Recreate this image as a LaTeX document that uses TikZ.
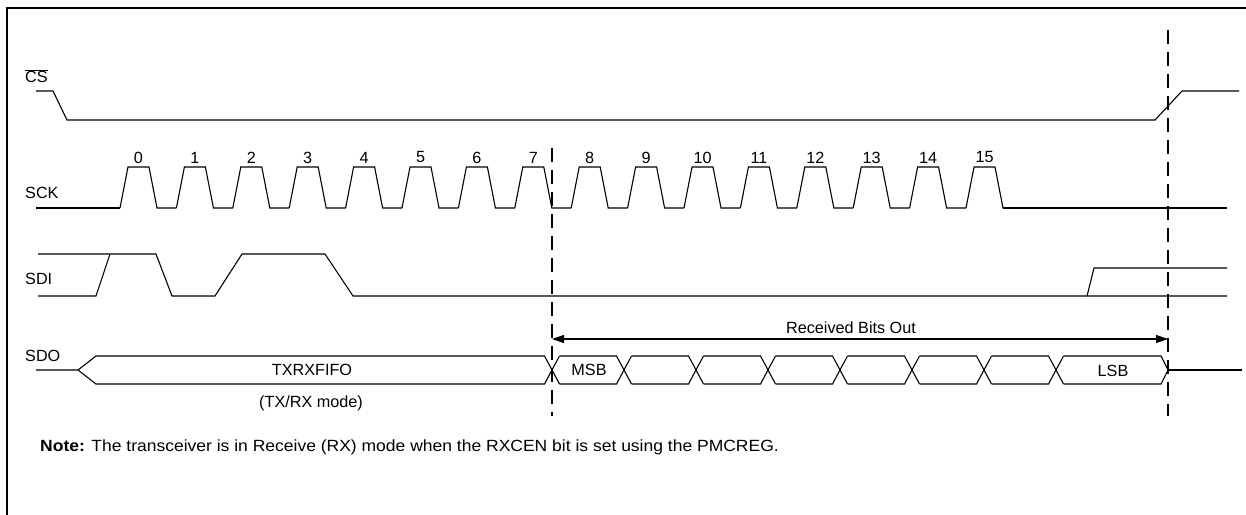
\documentclass[tikz,border=0pt]{standalone}
\usepackage{fontspec}
\setmainfont{Liberation Sans}
\usetikzlibrary{arrows.meta}
\begin{document}
\begin{tikzpicture}[x=1pt,y=-1pt,
  sig/.style={line width=1.1pt, line join=miter},
  lbl/.style={font=\fontsize{16.2}{19}\selectfont, inner sep=0pt},
  guide/.style={line width=1.8pt, dash pattern=on 14pt off 8pt},
  frame/.style={line width=2.4pt}]
\useasboundingbox (0,0) rectangle (1246,514);
% frame
\draw[frame] (7,520) -- (7,8) -- (1252,8);
% signal names
\node[lbl, anchor=west] (cs) at (25,76) {$\overline{\mbox{CS}}$};
\node[lbl, anchor=west] (sck) at (25,193) {SCK};
\node[lbl, anchor=west] (sdi) at (25,279) {SDI};
\node[lbl, anchor=west] (sdo) at (25,356) {SDO};
% CS
\draw[sig] (36,91) -- (53,91) -- (67,120) -- (1155,120) -- (1182,91) -- (1239,91);
% SCK
\draw[sig] (36,208) -- (120,208);
\foreach \k in {0,...,15} {
  \pgfmathsetmacro\r{120+56.4*\k}
  \draw[sig] (\r,208) -- ({\r+8},167) -- ({\r+29},167) -- ({\r+37},208) -- ({\r+56.4},208);
  \node[lbl] (n\k) at ({\r+18.5},157.5) {\k};
}
\draw[sig] (1003,208) -- (1227,208);
% SDI
\draw[sig] (38,296) -- (96,296) -- (110,254);
\draw[sig] (38,254) -- (156,254) -- (172,296) -- (215,296) -- (242,254) -- (325,254) -- (353,296) -- (1227,296);
\draw[sig] (1087,296) -- (1094,268) -- (1227,268);
% SDO bus
\draw[sig] (36,370) -- (78,370) -- (96,356) -- (544.5,356) -- (559.5,384);
\draw[sig] (78,370) -- (96,384) -- (544.5,384) -- (559.5,356);
\foreach \i in {0,...,6} {
  \pgfmathsetmacro\c{552+72*\i}
  \pgfmathsetmacro\d{552+72*(\i+1)}
  \draw[sig] ({\c+7.5},356) -- ({\d-7.5},356) -- ({\d+7.5},384);
  \draw[sig] ({\c+7.5},384) -- ({\d-7.5},384) -- ({\d+7.5},356);
}
\draw[sig] (1063.5,356) -- (1161,356) -- (1168,370) -- (1161,384) -- (1063.5,384);
\draw[sig] (1168,370) -- (1242,370);
\node[lbl] (txrx) at (312,370) {TXRXFIFO};
\node[lbl] (mode) at (311,403) {(TX/RX mode)};
\node[lbl] (msb) at (589,370) {MSB};
\node[lbl] (lsb) at (1113,371) {LSB};
% guides
\coordinate (g1t) at (552,148); \coordinate (g1b) at (552,416);
\coordinate (g2t) at (1168,30); \coordinate (g2b) at (1168,416);
\draw[guide] (g1t) -- (g1b);
\draw[guide] (g2t) -- (g2b);
% received bits arrow
\coordinate (a1) at (552,339); \coordinate (a2) at (1168,339);
\draw[line width=1.1pt, {Triangle[length=12pt,width=8pt]}-{Triangle[length=12pt,width=8pt]}] (a1) -- (a2);
\node[lbl] (rbo) at (851,327.5) {Received Bits Out};
% note
\node[lbl, anchor=west, xscale=1.08, transform shape] (note) at (40,447) {\textbf{Note:} The transceiver is in Receive (RX) mode when the RXCEN bit is set using the PMCREG.};
\end{tikzpicture}
\end{document}
